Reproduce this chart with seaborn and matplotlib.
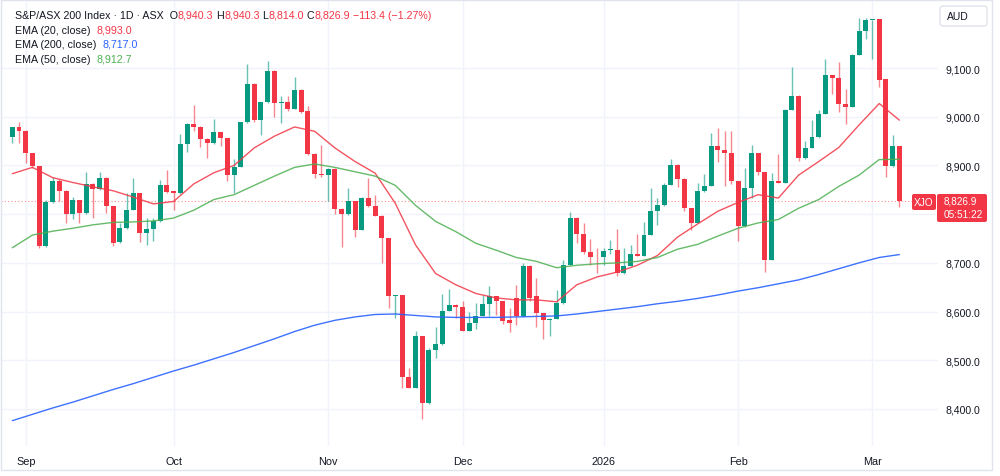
import numpy as np
import pandas as pd
import matplotlib
matplotlib.use("Agg")
import matplotlib.pyplot as plt
from matplotlib.patches import FancyBboxPatch, Rectangle
from matplotlib.transforms import IdentityTransform
import seaborn as sns

# daily candles, 28 Aug 2025 -> 6 Mar 2026
opens = [8958, 8978, 8971, 8925, 8898, 8735, 8824, 8869, 8848, 8800,
         8828, 8802, 8862, 8851, 8875, 8816, 8742, 8771, 8809, 8843,
         8761, 8769, 8785, 8860, 8847, 8843, 8944, 8986, 8979, 8955,
         8946, 8968, 8956, 8881, 8897, 8989, 9067, 8994, 9030, 9094,
         9028, 9031, 9016, 9055, 9011, 8924, 8883, 8880, 8893, 8811,
         8800, 8826, 8768, 8834, 8816, 8797, 8751, 8631, 8634, 8465,
         8444, 8549, 8412, 8522, 8533, 8602, 8614, 8610, 8561, 8576,
         8591, 8615, 8631, 8621, 8583, 8627, 8590, 8694, 8631, 8597,
         8582, 8585, 8617, 8696, 8793, 8760, 8723, 8713, 8711, 8726,
         8727, 8679, 8694, 8719, 8715, 8758, 8807, 8818, 8860, 8901,
         8873, 8812, 8782, 8847, 8858, 8939, 8932, 8925, 8867, 8775,
         8853, 8925, 8886, 8706, 8867, 8864, 9014, 9043, 8915, 8936,
         8958, 9006, 9085, 9079, 9026, 9020, 9127, 9175, 9198, 9200,
         9077, 8898, 8940.3]
highs = [8979, 8990, 8972, 8926, 8899, 8830, 8876, 8872, 8850, 8835,
         8830, 8886, 8863, 8886, 8876, 8817, 8782, 8843, 8875, 8844,
         8792, 8793, 8871, 8891, 8848, 8964, 8987, 9025, 8980, 8956,
         8995, 8969, 8957, 8913, 8990, 9108, 9069, 9031, 9115, 9095,
         9042, 9042, 9081, 9056, 9021, 8925, 8941, 8894, 8894, 8812,
         8853, 8827, 8836, 8874, 8840, 8798, 8752, 8635, 8635, 8485,
         8561, 8550, 8525, 8569, 8636, 8646, 8615, 8622, 8599, 8617,
         8634, 8653, 8632, 8622, 8607, 8655, 8699, 8695, 8669, 8598,
         8586, 8645, 8706, 8804, 8794, 8782, 8749, 8730, 8730, 8747,
         8769, 8730, 8737, 8760, 8783, 8853, 8833, 8864, 8913, 8902,
         8874, 8813, 8864, 8883, 8966, 8977, 8970, 8970, 8868, 8894,
         8942, 8926, 8887, 8884, 8924, 9015, 9103, 9044, 8951, 8994,
         9014, 9118, 9086, 9112, 9057, 9128, 9202, 9202, 9199, 9201,
         9078, 8963, 8940.3]
lows = [8947, 8947, 8906, 8895, 8730, 8733, 8823, 8826, 8782, 8790,
        8782, 8800, 8792, 8850, 8802, 8735, 8740, 8770, 8808, 8742,
        8737, 8744, 8784, 8844, 8808, 8842, 8927, 8970, 8937, 8915,
        8945, 8939, 8867, 8843, 8896, 8988, 8990, 8963, 9029, 8999,
        8987, 9011, 9015, 9008, 8921, 8875, 8877, 8827, 8800, 8732,
        8799, 8754, 8767, 8815, 8796, 8700, 8608, 8587, 8443, 8443,
        8443, 8380, 8411, 8504, 8532, 8601, 8587, 8560, 8560, 8564,
        8590, 8590, 8593, 8575, 8559, 8572, 8589, 8621, 8569, 8543,
        8549, 8584, 8616, 8695, 8741, 8718, 8696, 8679, 8696, 8719,
        8673, 8678, 8693, 8714, 8714, 8757, 8778, 8817, 8859, 8856,
        8806, 8767, 8781, 8846, 8857, 8908, 8858, 8862, 8744, 8774,
        8833, 8881, 8682, 8705, 8863, 8863, 9013, 8910, 8914, 8935,
        8957, 9005, 9047, 9009, 8986, 9019, 9126, 9159, 9118, 9062,
        8877, 8897, 8814.0]
closes = [8979, 8971, 8925, 8898, 8735, 8824, 8869, 8847, 8800, 8828,
          8802, 8862, 8851, 8875, 8816, 8741, 8771, 8809, 8843, 8761,
          8769, 8785, 8860, 8845, 8843, 8944, 8986, 8979, 8955, 8946,
          8968, 8956, 8881, 8897, 8989, 9067, 8994, 9030, 9094, 9028,
          9031, 9016, 9055, 9010, 8923, 8883, 8880, 8893, 8811, 8800,
          8826, 8768, 8834, 8816, 8797, 8751, 8631, 8634, 8465, 8444,
          8549, 8412, 8522, 8533, 8602, 8614, 8610, 8561, 8576, 8591,
          8615, 8631, 8621, 8580, 8576, 8590, 8694, 8628, 8597, 8582,
          8585, 8617, 8696, 8793, 8760, 8723, 8713, 8711, 8725, 8727,
          8679, 8694, 8719, 8715, 8758, 8807, 8818, 8860, 8901, 8873,
          8812, 8782, 8847, 8858, 8939, 8932, 8925, 8867, 8775, 8853,
          8925, 8886, 8706, 8868, 8864, 9014, 9043, 8915, 8936, 8958,
          9006, 9085, 9079, 9026, 9020, 9127, 9175, 9198, 9199, 9076,
          8898, 8940.3, 8826.9]

# EMA readings, every third candle
ema_pos = list(range(0, 133, 3))
ema20 = [8883, 8896, 8875, 8865, 8856, 8848, 8835, 8821, 8826, 8862,
         8885, 8900, 8936, 8960, 8979, 8970, 8936, 8908, 8884, 8822,
         8737, 8678, 8655, 8637, 8628, 8624, 8624, 8620, 8655, 8671,
         8681, 8695, 8715, 8753, 8780, 8806, 8824, 8840, 8833, 8880,
         8908, 8937, 8983, 9027, 8993.0]
ema50 = [8731, 8757, 8765, 8771, 8778, 8783, 8784, 8786, 8792, 8808,
         8830, 8840, 8859, 8878, 8896, 8903, 8896, 8887, 8878, 8859,
         8818, 8785, 8764, 8740, 8726, 8711, 8703, 8690, 8695, 8698,
         8700, 8703, 8711, 8728, 8738, 8755, 8771, 8782, 8789, 8812,
         8830, 8857, 8880, 8912, 8912.7]
ema200 = [8376, 8389, 8402, 8414, 8427, 8440, 8452, 8465, 8478, 8490,
          8503, 8516, 8530, 8544, 8559, 8572, 8582, 8589, 8594, 8595,
          8592, 8589, 8588, 8588, 8588, 8589, 8590, 8591, 8595, 8600,
          8605, 8610, 8616, 8621, 8627, 8634, 8642, 8649, 8657, 8665,
          8676, 8688, 8700, 8711, 8717.0]

month_labels = ["Sep", "Oct", "Nov", "Dec", "2026", "Feb", "Mar"]
month_pos = [2, 24, 47, 67, 88, 108, 128]
price_ticks = [8400, 8500, 8600, 8700, 8800, 8900, 9000, 9100]
hidden_tick = 8800  # covered by the last-price tag

UP = "#089981"
DOWN = "#F23645"
TXT = "#131722"
GRID = "#F0F3FA"
C20, C50, C200 = "#F23645", "#4CAF50", "#2962FF"

sns.set_theme(style="white")
plt.rcParams["font.family"] = ["Liberation Sans", "DejaVu Sans"]

W, H = 1000, 477
fig = plt.figure(figsize=(W / 100, H / 100), dpi=100)
ax = fig.add_axes([1 / W, 30 / H, 937 / W, 446 / H])

df = pd.DataFrame({"open": opens, "high": highs, "low": lows, "close": closes})
df["pos"] = np.arange(len(df))
df["up"] = df["close"] >= df["open"]
df["color"] = np.where(df["up"], UP, DOWN)
df["bottom"] = df[["open", "close"]].min(axis=1)
df["body"] = (df["close"] - df["open"]).abs().clip(lower=1.8)

# grid
for p in price_ticks:
    ax.axhline(p, color=GRID, lw=1, zorder=0)
for m in month_pos:
    ax.axvline(m, color=GRID, lw=1, zorder=0)

# candles
ax.vlines(df["pos"], df["low"], df["high"], colors=df["color"], lw=1, alpha=0.6, zorder=2)
ax.bar(df["pos"], df["body"], bottom=df["bottom"], width=0.74, color=df["color"],
       linewidth=0, zorder=3)

# EMAs
emas = pd.DataFrame({"pos": ema_pos, "ema20": ema20, "ema50": ema50, "ema200": ema200})
sns.lineplot(data=emas, x="pos", y="ema20", color=C20, lw=1, alpha=0.85, ax=ax, zorder=4)
sns.lineplot(data=emas, x="pos", y="ema50", color=C50, lw=1, alpha=0.85, ax=ax, zorder=4)
sns.lineplot(data=emas, x="pos", y="ema200", color=C200, lw=1, alpha=0.9, ax=ax, zorder=4)

# last price line
ax.axhline(closes[-1], color=DOWN, lw=0.8, ls=(0, (1, 2)), alpha=0.55, zorder=1)

ax.set_xlim(-1.68, 137.75)
ax.set_ylim(8324.0, 9239.6)
ax.set_xlabel("")
ax.set_ylabel("")
ax.set_xticks(month_pos)
ax.set_xticklabels(month_labels)
ax.set_yticks(price_ticks)
ax.set_yticklabels(["" if p == hidden_tick else f"{p:,.1f}" for p in price_ticks])
ax.yaxis.tick_right()
ax.tick_params(axis="y", length=0, pad=5.5, labelsize=7.6, labelcolor=TXT)
ax.tick_params(axis="x", length=0, pad=7.5, labelsize=7.8, labelcolor=TXT)
for s in ax.spines.values():
    s.set_visible(False)

ident = IdentityTransform()

# outer frame
fig.patches.append(Rectangle((0.5, H - 471), 991, 470.5, transform=ident,
                             fill=False, edgecolor="#E0E3EB", lw=1))

# currency box
fig.patches.append(FancyBboxPatch((940, H - 27), 47, 20, transform=ident,
                                  boxstyle="round,pad=0,rounding_size=3",
                                  facecolor="white", edgecolor="#E0E3EB", lw=1))
fig.text(947, H - 17, "AUD", transform=ident, ha="left", va="center",
         fontsize=7.5, color=TXT)

# last price tag
fig.patches.append(FancyBboxPatch((937, H - 223), 50, 28, transform=ident,
                                  boxstyle="round,pad=0,rounding_size=2",
                                  facecolor=DOWN, edgecolor="none"))
fig.text(944, H - 201.5, f"{closes[-1]:,.1f}", transform=ident, ha="left", va="center",
         fontsize=7.2, color="white")
fig.text(944, H - 215, "05:51:22", transform=ident, ha="left", va="center",
         fontsize=7.2, color="white")
fig.patches.append(FancyBboxPatch((912, H - 211), 24, 16, transform=ident,
                                  boxstyle="round,pad=0,rounding_size=2",
                                  facecolor=DOWN, edgecolor="none"))
fig.text(924, H - 203, "XJO", transform=ident, ha="center", va="center",
         fontsize=7.3, color="white")

# legend rows, coloured pieces placed one after another
renderer = fig.canvas.get_renderer()


def text_runs(x, y, parts, size=7.7):
    for s, c in parts:
        t = fig.text(x, H - y, s, color=c, fontsize=size, ha="left", va="center",
                     transform=ident)
        x = t.get_window_extent(renderer).x1


def fmt(v):
    return f"{v:,.1f}".replace("-", "−")


chg = closes[-1] - closes[-2]
pct = chg / closes[-2] * 100
text_runs(15, 16, [("S&P/ASX 200 Index · 1D · ASX  O", TXT), (fmt(opens[-1]), DOWN),
                   (" H", TXT), (fmt(highs[-1]), DOWN), (" L", TXT), (fmt(lows[-1]), DOWN),
                   (" C", TXT), (fmt(closes[-1]), DOWN),
                   (f" {fmt(chg)} ({pct:.2f}%)".replace("-", "−"), DOWN)])
text_runs(15, 31, [("EMA (20, close)  ", TXT), (fmt(ema20[-1]), C20)])
text_runs(15, 45, [("EMA (200, close)  ", TXT), (fmt(ema200[-1]), C200)])
text_runs(15, 60, [("EMA (50, close)  ", TXT), (fmt(ema50[-1]), C50)])

fig.savefig("out.png", dpi=100)
plt.close(fig)
